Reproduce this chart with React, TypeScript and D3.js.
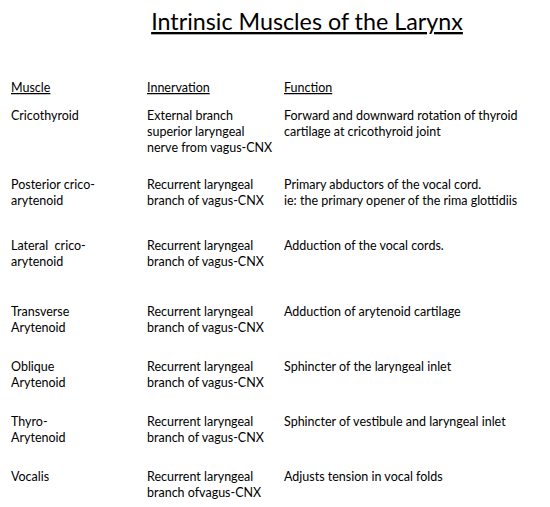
import React from "react";
import * as d3 from "d3";

const headers = ["Muscle", "Innervation", "Function"];
const muscles = [
  ["Cricothyroid"],
  ["Posterior crico-", "arytenoid"],
  ["Lateral  crico-", "arytenoid"],
  ["Transverse", "Arytenoid"],
  ["Oblique", "Arytenoid"],
  ["Thyro-", "Arytenoid"],
  ["Vocalis"],
];
const innervations = [
  ["External branch", "superior laryngeal", "nerve from vagus-CNX"],
  ["Recurrent laryngeal", "branch of vagus-CNX"],
  ["Recurrent laryngeal", "branch of vagus-CNX"],
  ["Recurrent laryngeal", "branch of vagus-CNX"],
  ["Recurrent laryngeal", "branch of vagus-CNX"],
  ["Recurrent laryngeal", "branch of vagus-CNX"],
  ["Recurrent laryngeal", "branch ofvagus-CNX"],
];
const functions = [
  ["Forward and downward rotation of thyroid", "cartilage at cricothyroid joint"],
  ["Primary abductors of the vocal cord.", "ie: the primary opener of the rima glottidiis"],
  ["Adduction of the vocal cords."],
  ["Adduction of arytenoid cartilage"],
  ["Sphincter of the laryngeal inlet"],
  ["Sphincter of vestibule and laryngeal inlet"],
  ["Adjusts tension in vocal folds"],
];

const rowTops = [120, 189, 250, 316, 371, 426, 481];
const colX = d3.scaleOrdinal<string, number>().domain(headers).range([11, 147, 284]);
const font = "Lato, 'Open Sans', sans-serif";

export default function App() {
  const cols = [muscles, innervations, functions];
  return (
    <svg width={550} height={507} style={{ position: "absolute", left: 0, top: 0, background: "#fff" }}>
      <text x={307} y={30} textAnchor="middle" fontFamily={font} fontSize={23.3} textDecoration="underline" fill="#000">
        Intrinsic Muscles of the Larynx
      </text>
      {headers.map((h) => (
        <text key={h} x={colX(h)} y={92} fontFamily={font} fontSize={12.5} textDecoration="underline" fill="#000">{h}</text>
      ))}
      {rowTops.map((y, i) =>
        cols.map((c, ci) =>
          c[i].map((line, li) => (
            <text key={`${i}-${ci}-${li}`} x={colX(headers[ci])} y={y + li * 16} fontFamily={font} fontSize={12.5} fill="#000" style={{ whiteSpace: "pre" }}>{line}</text>
          ))
        )
      )}
    </svg>
  );
}
